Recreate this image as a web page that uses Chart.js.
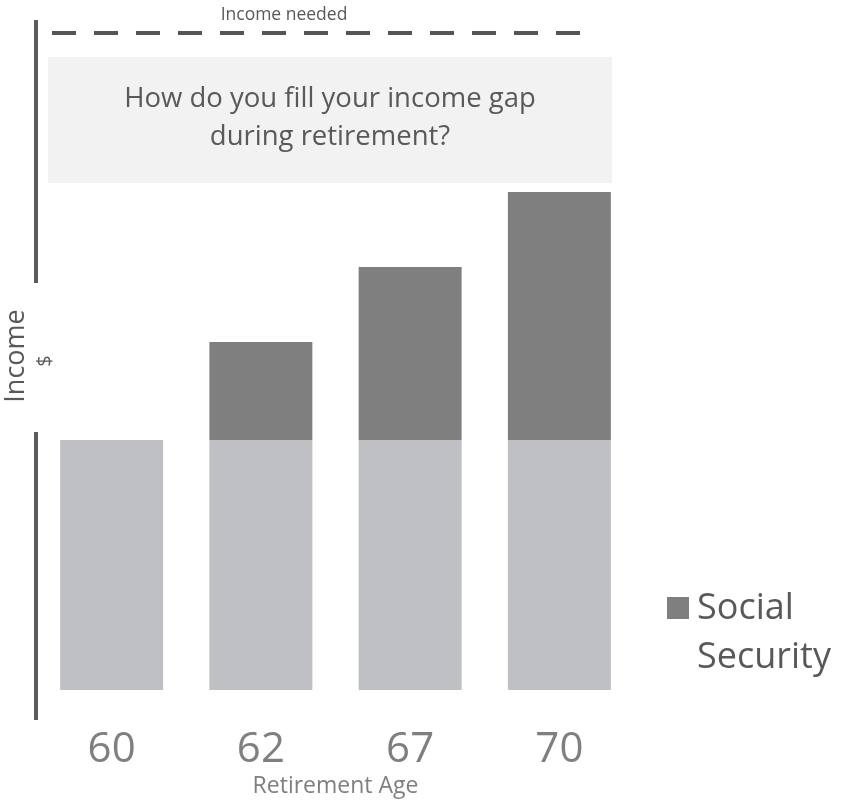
<!DOCTYPE html>
<html>
<head>
<meta charset="utf-8">
<title>Income gap during retirement</title>
<script src="https://cdn.jsdelivr.net/npm/chart.js@4.4.1/dist/chart.umd.min.js"></script>
<style>
  html, body { margin: 0; padding: 0; background: #ffffff; }
  #wrap { width: 841px; height: 800px; position: relative; }
</style>
</head>
<body>
<div id="wrap"><canvas id="incomeChart" width="841" height="800"></canvas></div>
<script>
const ages = ['60', '62', '67', '70'];
const baseIncome = [250, 250, 250, 250];
const socialSecurity = [0, 98, 173, 248];
const incomeNeeded = 657;

const FONT = "'Open Sans', sans-serif";

// axis line, dashed target, question box, y title and legend
const decorations = {
  id: 'decorations',
  afterDraw(chart) {
    const ctx = chart.ctx;
    const area = chart.chartArea;
    const y = chart.scales.y;
    ctx.save();

    // broken vertical axis
    ctx.strokeStyle = '#5b5b60';
    ctx.lineWidth = 4;
    ctx.beginPath();
    ctx.moveTo(36, area.top);
    ctx.lineTo(36, 283);
    ctx.moveTo(36, 432);
    ctx.lineTo(36, area.bottom);
    ctx.stroke();

    // income needed
    const yNeed = y.getPixelForValue(incomeNeeded);
    ctx.strokeStyle = '#555555';
    ctx.setLineDash([24, 18]);
    ctx.beginPath();
    ctx.moveTo(area.left + 15, yNeed);
    ctx.lineTo(area.right - 54, yNeed);
    ctx.stroke();
    ctx.setLineDash([]);

    ctx.fillStyle = '#595959';
    ctx.font = '17.5px ' + FONT;
    ctx.textAlign = 'center';
    ctx.textBaseline = 'alphabetic';
    ctx.fillText('Income needed', 284, yNeed - 13);

    // question box
    const bTop = y.getPixelForValue(633);
    const bBot = y.getPixelForValue(507);
    ctx.fillStyle = '#f2f2f2';
    ctx.fillRect(area.left + 11, bTop, area.right - area.left - 33, bBot - bTop);
    ctx.fillStyle = '#595959';
    ctx.font = '27.5px ' + FONT;
    const cx = (area.left + 11 + area.right - 22) / 2;
    ctx.fillText('How do you fill your income gap', cx, bTop + 50);
    ctx.fillText('during retirement?', cx, bTop + 88);

    // y title
    ctx.save();
    ctx.translate(24, 356);
    ctx.rotate(-Math.PI / 2);
    ctx.font = '27px ' + FONT;
    ctx.fillText('Income', 0, 0);
    ctx.restore();
    ctx.save();
    ctx.translate(51, 361);
    ctx.rotate(-Math.PI / 2);
    ctx.font = '20px ' + FONT;
    ctx.fillText('$', 0, 0);
    ctx.restore();

    // legend
    const ds = chart.data.datasets[1];
    ctx.fillStyle = ds.backgroundColor;
    ctx.fillRect(667, 597, 22, 22);
    ctx.fillStyle = '#595959';
    ctx.font = '36px ' + FONT;
    ctx.textAlign = 'left';
    ctx.fillText('Social', 697, 619);
    ctx.fillText('Security', 697, 668);

    ctx.restore();
  }
};

const ctx = document.getElementById('incomeChart').getContext('2d');
new Chart(ctx, {
  type: 'bar',
  data: {
    labels: ages,
    datasets: [
      {
        label: 'Base income',
        data: baseIncome,
        backgroundColor: '#bfc0c4',
        barPercentage: 0.69,
        categoryPercentage: 1
      },
      {
        label: 'Social Security',
        data: socialSecurity,
        backgroundColor: '#7f7f7f',
        barPercentage: 0.69,
        categoryPercentage: 1
      }
    ]
  },
  options: {
    responsive: false,
    animation: false,
    layout: { padding: { left: 37, right: 207, top: 20, bottom: 0 } },
    plugins: {
      legend: { display: false },
      tooltip: { enabled: false }
    },
    scales: {
      x: {
        stacked: true,
        grid: { display: false, drawTicks: false },
        border: { display: false },
        ticks: {
          color: '#7f7f7f',
          padding: 8,
          font: { family: FONT, size: 42, lineHeight: 1.05 }
        },
        title: {
          display: true,
          text: 'Retirement Age',
          color: '#7f7f7f',
          padding: { top: -5, bottom: 2 },
          font: { family: FONT, size: 23, lineHeight: 1.0 }
        }
      },
      y: {
        stacked: true,
        display: false,
        min: -30,
        max: 670
      }
    }
  },
  plugins: [decorations]
});
</script>
</body>
</html>
